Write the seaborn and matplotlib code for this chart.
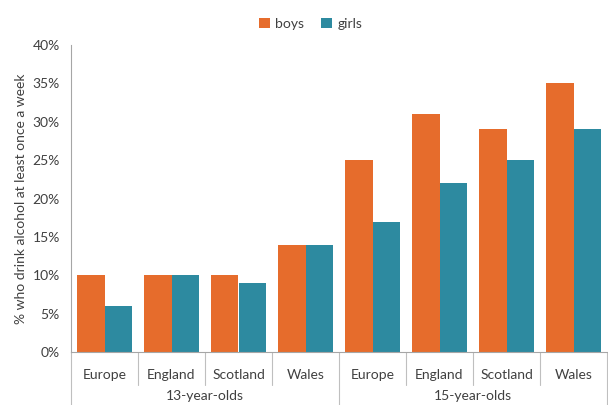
import numpy as np
import pandas as pd
import matplotlib
matplotlib.use("Agg")
import matplotlib.pyplot as plt
import seaborn as sns

# data
countries = ["Europe", "England", "Scotland", "Wales"]
ages = ["13-year-olds", "15-year-olds"]
boys_13 = [10, 10, 10, 14]
girls_13 = [6, 10, 9, 14]
boys_15 = [25, 31, 29, 35]
girls_15 = [17, 22, 25, 29]

rows = []
for age, b, g in [(ages[0], boys_13, girls_13), (ages[1], boys_15, girls_15)]:
    for c, vb, vg in zip(countries, b, g):
        rows.append({"slot": age + " " + c, "sex": "boys", "value": vb})
        rows.append({"slot": age + " " + c, "sex": "girls", "value": vg})
df = pd.DataFrame(rows)
order = [a + " " + c for a in ages for c in countries]

sns.set_style("white")
plt.rcParams["font.family"] = ["Lato", "DejaVu Sans"]
plt.rcParams["font.size"] = 10

fig = plt.figure(figsize=(6.08, 4.05), dpi=100)
ax = fig.add_axes([71 / 608, 53 / 405, 536 / 608, 307 / 405])

sns.barplot(data=df, x="slot", y="value", hue="sex", order=order,
            palette={"boys": "#E66C2C", "girls": "#2D8AA0"}, saturation=1,
            width=0.82, gap=0, linewidth=0, errorbar=None, ax=ax, legend=True)

ax.set_ylim(0, 40)
ax.set_xlim(-0.5, 7.5)
ax.set_yticks(np.arange(0, 41, 5))
ax.set_yticklabels([f"{v}%" for v in range(0, 41, 5)], color="#404040")
ax.set_ylabel("% who drink alcohol at least once a week", color="#404040")
ax.set_xlabel("")
ax.set_xticks([])
ax.tick_params(axis="y", length=0, pad=8)

for s in ["top", "right"]:
    ax.spines[s].set_visible(False)
for s in ["left", "bottom"]:
    ax.spines[s].set_color("#A6A6A6")
    ax.spines[s].set_linewidth(0.8)

# two-level category axis
trans = ax.get_xaxis_transform()
for i in range(9):
    x = i - 0.5
    low = -0.175 if i in (0, 4, 8) else -0.107
    ax.plot([x, x], [0, low], color="#BFBFBF", lw=0.8, transform=trans, clip_on=False)
for i, name in enumerate(order):
    ax.text(i, -0.075, name.split(" ")[1], transform=trans, ha="center", va="center",
            color="#404040")
for j, age in enumerate(ages):
    ax.text(1.5 + 4 * j, -0.143, age, transform=trans, ha="center", va="center",
            color="#404040")

ax.legend(loc="upper center", bbox_to_anchor=(0.447, 1.13), ncol=2, frameon=False,
          handlelength=0.8, handleheight=0.8, handletextpad=0.4, columnspacing=1.2,
          labelcolor="#404040")

fig.savefig("out.png", dpi=100)
